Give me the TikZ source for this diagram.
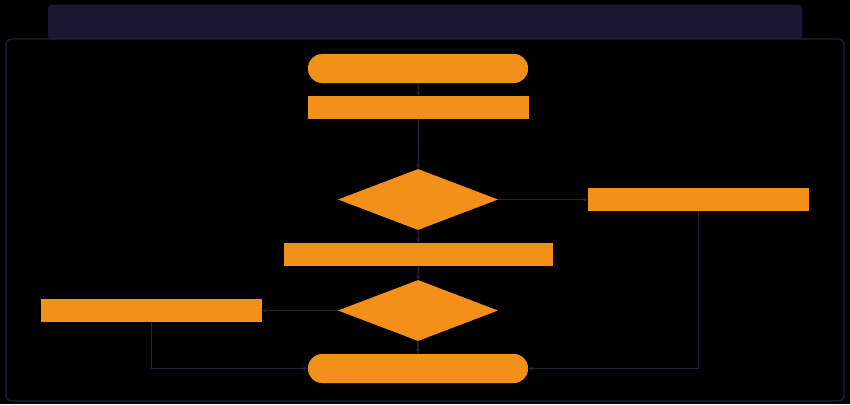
\documentclass[tikz,border=0pt]{standalone}
\usetikzlibrary{shapes.geometric,arrows.meta}
\definecolor{bgc}{HTML}{000000}
\definecolor{navy}{HTML}{1B1631}
\definecolor{framec}{HTML}{24203B}
\definecolor{linec}{HTML}{231E3C}
\definecolor{orng}{HTML}{F39019}
\begin{document}
\begin{tikzpicture}[x=1pt,y=-1pt,
  boxst/.style={rectangle,fill=orng,draw=none,inner sep=0pt},
  termst/.style={rectangle,rounded corners=14pt,fill=orng,draw=none,inner sep=0pt,minimum width=220pt,minimum height=29pt},
  decst/.style={diamond,fill=orng,draw=none,inner sep=0pt,minimum width=160pt,minimum height=61pt},
  conn/.style={draw=linec,line width=1.4pt,-{Stealth[length=5pt,width=4.5pt]}},
  plain/.style={draw=linec,line width=1.4pt}]
\useasboundingbox (0,0) rectangle (850,404);
\fill[bgc] (0,0) rectangle (850,404);
\fill[navy,rounded corners=3pt] (48,39) -- (48,5) -- (802,5) -- (802,39) -- cycle;
\draw[framec,line width=1.2pt,rounded corners=5pt] (6,39) rectangle (844,401);

\node[termst] (start) at (418,68.5) {};
\node[boxst,minimum width=221pt,minimum height=23pt] (r1) at (418.5,107.5) {};
\node[decst] (d1) at (418,199.5) {};
\node[boxst,minimum width=221pt,minimum height=23pt] (rr) at (698.5,199.5) {};
\node[boxst,minimum width=269pt,minimum height=23pt] (r2) at (418.5,254.5) {};
\node[decst] (d2) at (418,310.5) {};
\node[boxst,minimum width=221pt,minimum height=23pt] (rl) at (151.5,310.5) {};
\node[termst] (end) at (418,368.5) {};

\draw[conn] (start) -- (r1);
\draw[conn] (r1) -- (d1);
\draw[conn] (d1.east) -- (rr.west);
\draw[conn] (d1) -- (r2);
\draw[conn] (r2) -- (d2);
\draw[conn] (d2.west) -- (rl.east);
\draw[conn] (d2) -- (end);
\draw[conn] (rl.south) |- (end.west);
\draw[conn] (rr.south) |- (end.east);
\end{tikzpicture}
\end{document}
